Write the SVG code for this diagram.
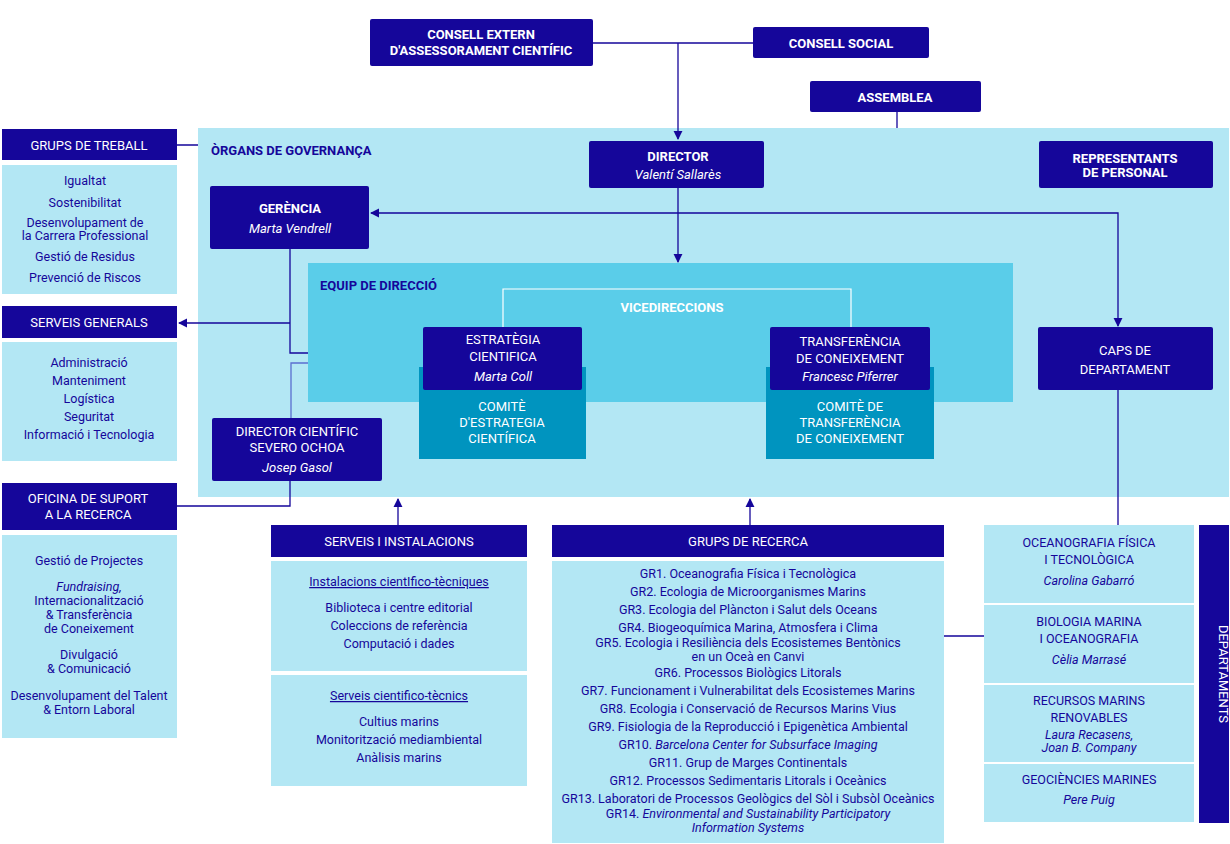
<svg xmlns="http://www.w3.org/2000/svg" width="1230" height="844" viewBox="0 0 1230 844">
<style>
text{font-family:Roboto,"Liberation Sans",sans-serif;font-size:12.5px;text-anchor:middle}
.d{fill:#15069a}.l{fill:#b3e7f4}.m{fill:#5acde9}.t{fill:#0094bf}
.w{fill:#fff;font-weight:bold;font-size:13px}
.wn{fill:#fff;font-size:13px}
.wi{fill:#fff;font-style:italic;font-size:13px}
.n{fill:#15069a}
.ni{fill:#15069a;font-style:italic}
.h{fill:#15069a;font-weight:bold;font-size:13px;text-anchor:start}
.u{text-decoration:underline}
.c{stroke:#15069a;stroke-width:1.3;fill:none}
</style>
<defs><marker id="a" viewBox="0 0 10 10" refX="9" refY="5" markerWidth="7" markerHeight="7" orient="auto-start-reverse"><path d="M0,0L10,5L0,10z" fill="#15069a"/></marker></defs>
<rect x="198" y="128" width="1031" height="369" class="l"/>
<rect x="308" y="263" width="705" height="139" class="m"/>
<text x="211" y="155" class="h">ÒRGANS DE GOVERNANÇA</text>
<text x="320" y="290" class="h">EQUIP DE DIRECCIÓ</text>
<g id="connectors">
<path class="c" d="M593,43H753"/>
<path class="c" marker-end="url(#a)" d="M678,43V139"/>
<path class="c" d="M897,112V128M177,145H198"/>
<path class="c" marker-end="url(#a)" d="M678,188V262"/>
<path class="c" marker-start="url(#a)" marker-end="url(#a)" d="M371,213H1118V326"/>
<path class="c" d="M290,249V353H308"/>
<path class="c" marker-end="url(#a)" d="M290,323H179"/>
<path class="c" style="stroke:#5b6fd0" d="M308,363H291V418"/>
<path class="c" d="M290,481V506H177"/>
<path class="c" marker-end="url(#a)" d="M398,525V499"/>
<path class="c" marker-end="url(#a)" d="M750,525V499"/>
<path class="c" d="M1118,390V525M944,636H984"/>
<path d="M503,327V289H851V327" stroke="#fff" stroke-width="1.2" fill="none"/>
</g>
<g id="consell-extern"><rect x="370" y="19" width="223" height="47" rx="2" class="d"/><text x="481" y="39" class="w">CONSELL EXTERN</text><text x="481" y="55" class="w">D'ASSESSORAMENT CIENTÍFIC</text></g>
<g id="consell-social"><rect x="753" y="27" width="176" height="31" rx="2" class="d"/><text x="841" y="48" class="w">CONSELL SOCIAL</text></g>
<g id="assemblea"><rect x="810" y="81" width="171" height="31" rx="2" class="d"/><text x="895" y="102" class="w">ASSEMBLEA</text></g>
<g id="director"><rect x="589" y="141" width="175" height="47" rx="2" class="d"/><text x="678" y="161" class="w">DIRECTOR</text><text x="678" y="179" class="wi">Valentí Sallarès</text></g>
<g id="representants"><rect x="1039" y="141" width="174" height="47" rx="2" class="d"/><text x="1125" y="163" class="w">REPRESENTANTS</text><text x="1125" y="177" class="w">DE PERSONAL</text></g>
<g id="gerencia"><rect x="210" y="186" width="159" height="63" rx="2" class="d"/><text x="290" y="213" class="w">GERÈNCIA</text><text x="290" y="233" class="wi">Marta Vendrell</text></g>
<g id="comite-estrategia"><rect x="419" y="367" width="167" height="92" class="t"/><text x="502" y="411" class="wn">COMITÈ</text><text x="502" y="427" class="wn">D'ESTRATEGIA</text><text x="502" y="443" class="wn">CIENTÍFICA</text></g>
<g id="estrategia"><rect x="423" y="327" width="159" height="63" rx="2" class="d"/><text x="503" y="344" class="wn">ESTRATÈGIA</text><text x="503" y="361" class="wn">CIENTIFICA</text><text x="503" y="381" class="wi">Marta Coll</text></g>
<g id="comite-transferencia"><rect x="766" y="367" width="168" height="92" class="t"/><text x="850" y="411" class="wn">COMITÈ DE</text><text x="850" y="427" class="wn">TRANSFERÈNCIA</text><text x="850" y="443" class="wn">DE CONEIXEMENT</text></g>
<g id="transferencia"><rect x="770" y="327" width="160" height="63" rx="2" class="d"/><text x="850" y="346" class="wn">TRANSFERÈNCIA</text><text x="850" y="363" class="wn">DE CONEIXEMENT</text><text x="850" y="381" class="wi">Francesc Piferrer</text></g>
<text x="672" y="312" class="w">VICEDIRECCIONS</text>
<g id="caps"><rect x="1038" y="327" width="175" height="63" rx="2" class="d"/><text x="1125" y="355" class="wn">CAPS DE</text><text x="1125" y="374" class="wn">DEPARTAMENT</text></g>
<g id="director-cientific"><rect x="212" y="418" width="170" height="63" rx="2" class="d"/><text x="297" y="436" class="wn">DIRECTOR CIENTÍFIC</text><text x="297" y="452" class="wn">SEVERO OCHOA</text><text x="297" y="472" class="wi">Josep Gasol</text></g>
<g id="grups-treball"><rect x="2" y="129" width="175" height="31" class="d"/><text x="89" y="150" class="wn">GRUPS DE TREBALL</text>
<rect x="2" y="165" width="175" height="129" class="l"/>
<text x="85" y="185" class="n">Igualtat</text><text x="85" y="207" class="n">Sostenibilitat</text><text x="85" y="227" class="n">Desenvolupament de</text><text x="85" y="240" class="n">la Carrera Professional</text><text x="85" y="261" class="n">Gestió de Residus</text><text x="85" y="282" class="n">Prevenció de Riscos</text></g>
<g id="serveis-generals"><rect x="2" y="306" width="175" height="32" class="d"/><text x="89" y="327" class="wn">SERVEIS GENERALS</text>
<rect x="2" y="342" width="175" height="119" class="l"/>
<text x="89" y="367" class="n">Administració</text><text x="89" y="385" class="n">Manteniment</text><text x="89" y="403" class="n">Logística</text><text x="89" y="421" class="n">Seguritat</text><text x="89" y="439" class="n">Informació i Tecnologia</text></g>
<g id="oficina"><rect x="2" y="483" width="175" height="47" class="d"/><text x="88" y="503" class="wn">OFICINA DE SUPORT</text><text x="88" y="519" class="wn">A LA RECERCA</text>
<rect x="2" y="535" width="175" height="203" class="l"/>
<text x="89" y="565" class="n">Gestió de Projectes</text><text x="89" y="591" class="ni">Fundraising,</text><text x="89" y="605" class="n">Internacionalització</text><text x="89" y="619" class="n">&amp; Transferència</text><text x="89" y="633" class="n">de Coneixement</text><text x="89" y="659" class="n">Divulgació</text><text x="89" y="673" class="n">&amp; Comunicació</text><text x="89" y="700" class="n">Desenvolupament del Talent</text><text x="89" y="714" class="n">&amp; Entorn Laboral</text></g>
<g id="serveis-instalacions"><rect x="271" y="525" width="256" height="32" class="d"/><text x="399" y="546" class="wn">SERVEIS I INSTALACIONS</text>
<rect x="271" y="561" width="256" height="110" class="l"/>
<text x="399" y="586" class="n u">Instalacions cientIfico-tècniques</text><text x="399" y="612" class="n">Biblioteca i centre editorial</text><text x="399" y="630" class="n">Coleccions de referència</text><text x="399" y="648" class="n">Computació i dades</text>
<rect x="271" y="675" width="256" height="111" class="l"/>
<text x="399" y="700" class="n u">Serveis cientifico-tècnics</text><text x="399" y="726" class="n">Cultius marins</text><text x="399" y="744" class="n">Monitorització mediambiental</text><text x="399" y="762" class="n">Anàlisis marins</text></g>
<g id="grups-recerca"><rect x="552" y="525" width="392" height="32" class="d"/><text x="748" y="546" class="wn">GRUPS DE RECERCA</text>
<rect x="552" y="561" width="392" height="282" class="l"/>
<g style="font-size:12px">
<text x="748" y="578" class="n">GR1. Oceanografia Física i Tecnològica</text>
<text x="748" y="596" class="n">GR2. Ecologia de Microorganismes Marins</text>
<text x="748" y="614" class="n">GR3. Ecologia del Plàncton i Salut dels Oceans</text>
<text x="748" y="632" class="n">GR4. Biogeoquímica Marina, Atmosfera i Clima</text>
<text x="748" y="647" class="n">GR5. Ecologia i Resiliència dels Ecosistemes Bentònics</text>
<text x="748" y="661" class="n">en un Oceà en Canvi</text>
<text x="748" y="677" class="n">GR6. Processos Biològics Litorals</text>
<text x="748" y="695" class="n">GR7. Funcionament i Vulnerabilitat dels Ecosistemes Marins</text>
<text x="748" y="713" class="n">GR8. Ecologia i Conservació de Recursos Marins Vius</text>
<text x="748" y="731" class="n">GR9. Fisiologia de la Reproducció i Epigenètica Ambiental</text>
<text x="748" y="749" class="n">GR10. <tspan font-style="italic">Barcelona Center for Subsurface Imaging</tspan></text>
<text x="748" y="767" class="n">GR11. Grup de Marges Continentals</text>
<text x="748" y="785" class="n">GR12. Processos Sedimentaris Litorals i Oceànics</text>
<text x="748" y="803" class="n">GR13. Laboratori de Processos Geològics del Sòl i Subsòl Oceànics</text>
<text x="748" y="818" class="n">GR14. <tspan font-style="italic">Environmental and Sustainability Participatory</tspan></text>
<text x="748" y="832" class="ni">Information Systems</text>
</g></g>
<g id="departaments"><rect x="1199" y="525" width="30" height="298" class="d"/><text transform="translate(1219,674) rotate(90)" class="wn">DEPARTAMENTS</text>
<rect x="984" y="525" width="210" height="78" class="l"/><text x="1089" y="547" class="n">OCEANOGRAFIA FÍSICA</text><text x="1089" y="564" class="n">I TECNOLÒGICA</text><text x="1089" y="585" class="ni">Carolina Gabarró</text>
<rect x="984" y="605" width="210" height="78" class="l"/><text x="1089" y="626" class="n">BIOLOGIA MARINA</text><text x="1089" y="643" class="n">I OCEANOGRAFIA</text><text x="1089" y="664" class="ni">Cèlia Marrasé</text>
<rect x="984" y="685" width="210" height="77" class="l"/><text x="1089" y="705" class="n">RECURSOS MARINS</text><text x="1089" y="722" class="n">RENOVABLES</text><text x="1089" y="739" class="ni">Laura Recasens,</text><text x="1089" y="752" class="ni">Joan B. Company</text>
<rect x="984" y="764" width="210" height="58" class="l"/><text x="1089" y="784" class="n">GEOCIÈNCIES MARINES</text><text x="1089" y="804" class="ni">Pere Puig</text></g>
</svg>
